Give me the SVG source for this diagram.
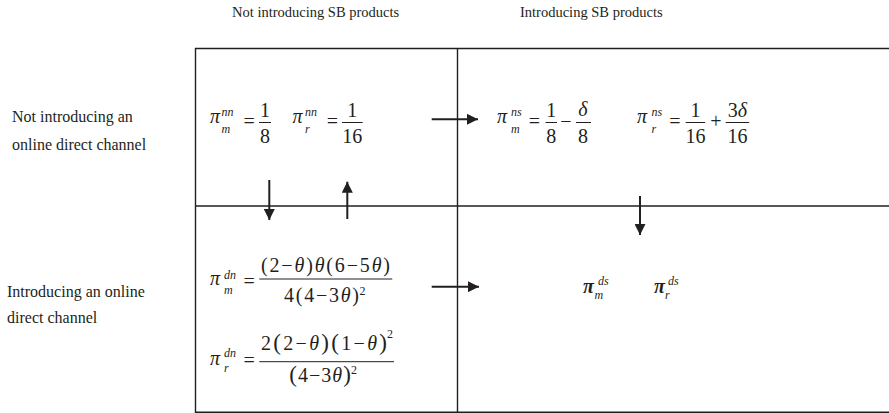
<svg xmlns="http://www.w3.org/2000/svg" width="889" height="413" viewBox="0 0 889 413" font-family="'Liberation Serif', Tinos, 'DejaVu Serif', serif">
<style>
text{font-family:"Liberation Serif",Tinos,"DejaVu Serif",serif;fill:#231f20}
.hd{font-size:14.5px}
.lb{font-size:16px}
.m{font-size:20px}
.i{font-style:italic}
.s{font-size:12px;font-style:italic}
.s2{font-size:12px}
.c{text-anchor:middle}
.grid line{stroke:#231f20;stroke-width:1.4}
.bar{stroke:#231f20;stroke-width:1}
.conn line{stroke:#231f20;stroke-width:2}
</style>
<defs>
<marker id="ah" viewBox="0 0 10 10" refX="10" refY="5" markerWidth="5.5" markerHeight="5.5" orient="auto" markerUnits="strokeWidth">
<path d="M0,0 L10,5 L0,10 z" fill="#231f20"/>
</marker>
</defs>
<rect width="889" height="413" fill="#fff"/>

<g id="headers">
<text class="hd" x="232" y="17">Not introducing SB products</text>
<text class="hd" x="520" y="17">Introducing SB products</text>
</g>
<g id="row-labels">
<text class="lb" x="12" y="121.5">Not introducing an</text>
<text class="lb" x="12" y="149.5">online direct channel</text>
<text class="lb" x="7" y="296.5">Introducing an online</text>
<text class="lb" x="7" y="323">direct channel</text>
</g>

<g class="grid" id="grid">
<line x1="195" y1="48.5" x2="889" y2="48.5"/>
<line x1="195" y1="206" x2="889" y2="206"/>
<line x1="195" y1="412.3" x2="889" y2="412.3"/>
<line x1="195.5" y1="48" x2="195.5" y2="413"/>
<line x1="457.5" y1="48" x2="457.5" y2="413"/>
</g>

<g id="cell-nn">
<text class="m i" x="210" y="123">π</text>
<text class="s" x="221.5" y="116">nn</text>
<text class="s" x="221.5" y="133">m</text>
<text class="m c" x="249.2" y="127.5">=</text>
<text class="m c" x="265" y="117">1</text>
<line class="bar" x1="259" y1="122.5" x2="271" y2="122.5"/>
<text class="m c" x="265" y="143">8</text>
<text class="m i" x="292.5" y="123">π</text>
<text class="s" x="305" y="116">nn</text>
<text class="s" x="305" y="133">r</text>
<text class="m c" x="332.3" y="127.5">=</text>
<text class="m c" x="352.3" y="117">1</text>
<line class="bar" x1="342" y1="122.5" x2="362.7" y2="122.5"/>
<text class="m c" x="352.3" y="143">16</text>
</g>

<g id="cell-ns">
<text class="m i" x="497" y="123">π</text>
<text class="s" x="511" y="116">ns</text>
<text class="s" x="511" y="133">m</text>
<text class="m c" x="534.5" y="127.5">=</text>
<text class="m c" x="551.2" y="117">1</text>
<line class="bar" x1="545.5" y1="122.5" x2="557" y2="122.5"/>
<text class="m c" x="551.2" y="143">8</text>
<text class="m c" x="566" y="127.5">−</text>
<text class="m i c" x="583" y="116">δ</text>
<line class="bar" x1="576" y1="122.5" x2="591" y2="122.5"/>
<text class="m c" x="583" y="143">8</text>
<text class="m i" x="637" y="123">π</text>
<text class="s" x="651.5" y="116">ns</text>
<text class="s" x="651.5" y="133">r</text>
<text class="m c" x="675" y="127.5">=</text>
<text class="m c" x="695.5" y="117">1</text>
<line class="bar" x1="685.7" y1="122.5" x2="705.2" y2="122.5"/>
<text class="m c" x="695.5" y="143">16</text>
<text class="m c" x="716" y="127.5">+</text>
<text class="m c" x="737.5" y="117">3<tspan class="i">δ</tspan></text>
<line class="bar" x1="725.7" y1="122.5" x2="749.2" y2="122.5"/>
<text class="m c" x="737.5" y="143">16</text>
</g>

<g id="cell-dn">
<text class="m i" x="210" y="285">π</text>
<text class="s" x="224" y="279">dn</text>
<text class="s" x="224" y="294">m</text>
<text class="m c" x="249.2" y="288">=</text>
<text class="m" x="261" y="272" textLength="129" lengthAdjust="spacing">(2−<tspan class="i">θ</tspan>)<tspan class="i">θ</tspan>(6−5<tspan class="i">θ</tspan>)</text>
<line class="bar" x1="259.3" y1="279" x2="392.3" y2="279"/>
<text class="m" x="284" y="301.7" textLength="75" lengthAdjust="spacing">4(4−3<tspan class="i">θ</tspan>)</text>
<text class="s2" x="359.5" y="295">2</text>
<text class="m i" x="210" y="365">π</text>
<text class="s" x="224" y="357">dn</text>
<text class="s" x="224" y="372">r</text>
<text class="m c" x="249.2" y="367">=</text>
<text class="m" x="261" y="350" textLength="126" lengthAdjust="spacing">2<tspan font-size="23">(</tspan>2−<tspan class="i">θ</tspan><tspan font-size="23">)(</tspan>1−<tspan class="i">θ</tspan><tspan font-size="23">)</tspan></text>
<text class="s2" x="387" y="338">2</text>
<line class="bar" x1="259.3" y1="361.7" x2="394" y2="361.7"/>
<text class="m" x="289.3" y="381.7" textLength="61.5" lengthAdjust="spacing"><tspan font-size="23">(</tspan>4−3<tspan class="i">θ</tspan><tspan font-size="23">)</tspan></text>
<text class="s2" x="351" y="374">2</text>
</g>

<g id="cell-ds">
<text class="m i" x="583" y="293" font-weight="bold">π</text>
<text class="s" x="598" y="285">ds</text>
<text class="s" x="594.5" y="299">m</text>
<text class="m i" x="654" y="293" font-weight="bold">π</text>
<text class="s" x="668" y="285">ds</text>
<text class="s" x="665" y="299">r</text>
</g>

<g class="conn" id="connectors">
<line x1="431.7" y1="119.3" x2="478" y2="119.3" marker-end="url(#ah)"/>
<line x1="431.7" y1="286.7" x2="479" y2="286.7" marker-end="url(#ah)"/>
<line x1="269.3" y1="180" x2="269.3" y2="220" marker-end="url(#ah)"/>
<line x1="347.3" y1="219" x2="347.3" y2="181.7" marker-end="url(#ah)"/>
<line x1="640" y1="196" x2="640" y2="235" marker-end="url(#ah)"/>
</g>
</svg>
